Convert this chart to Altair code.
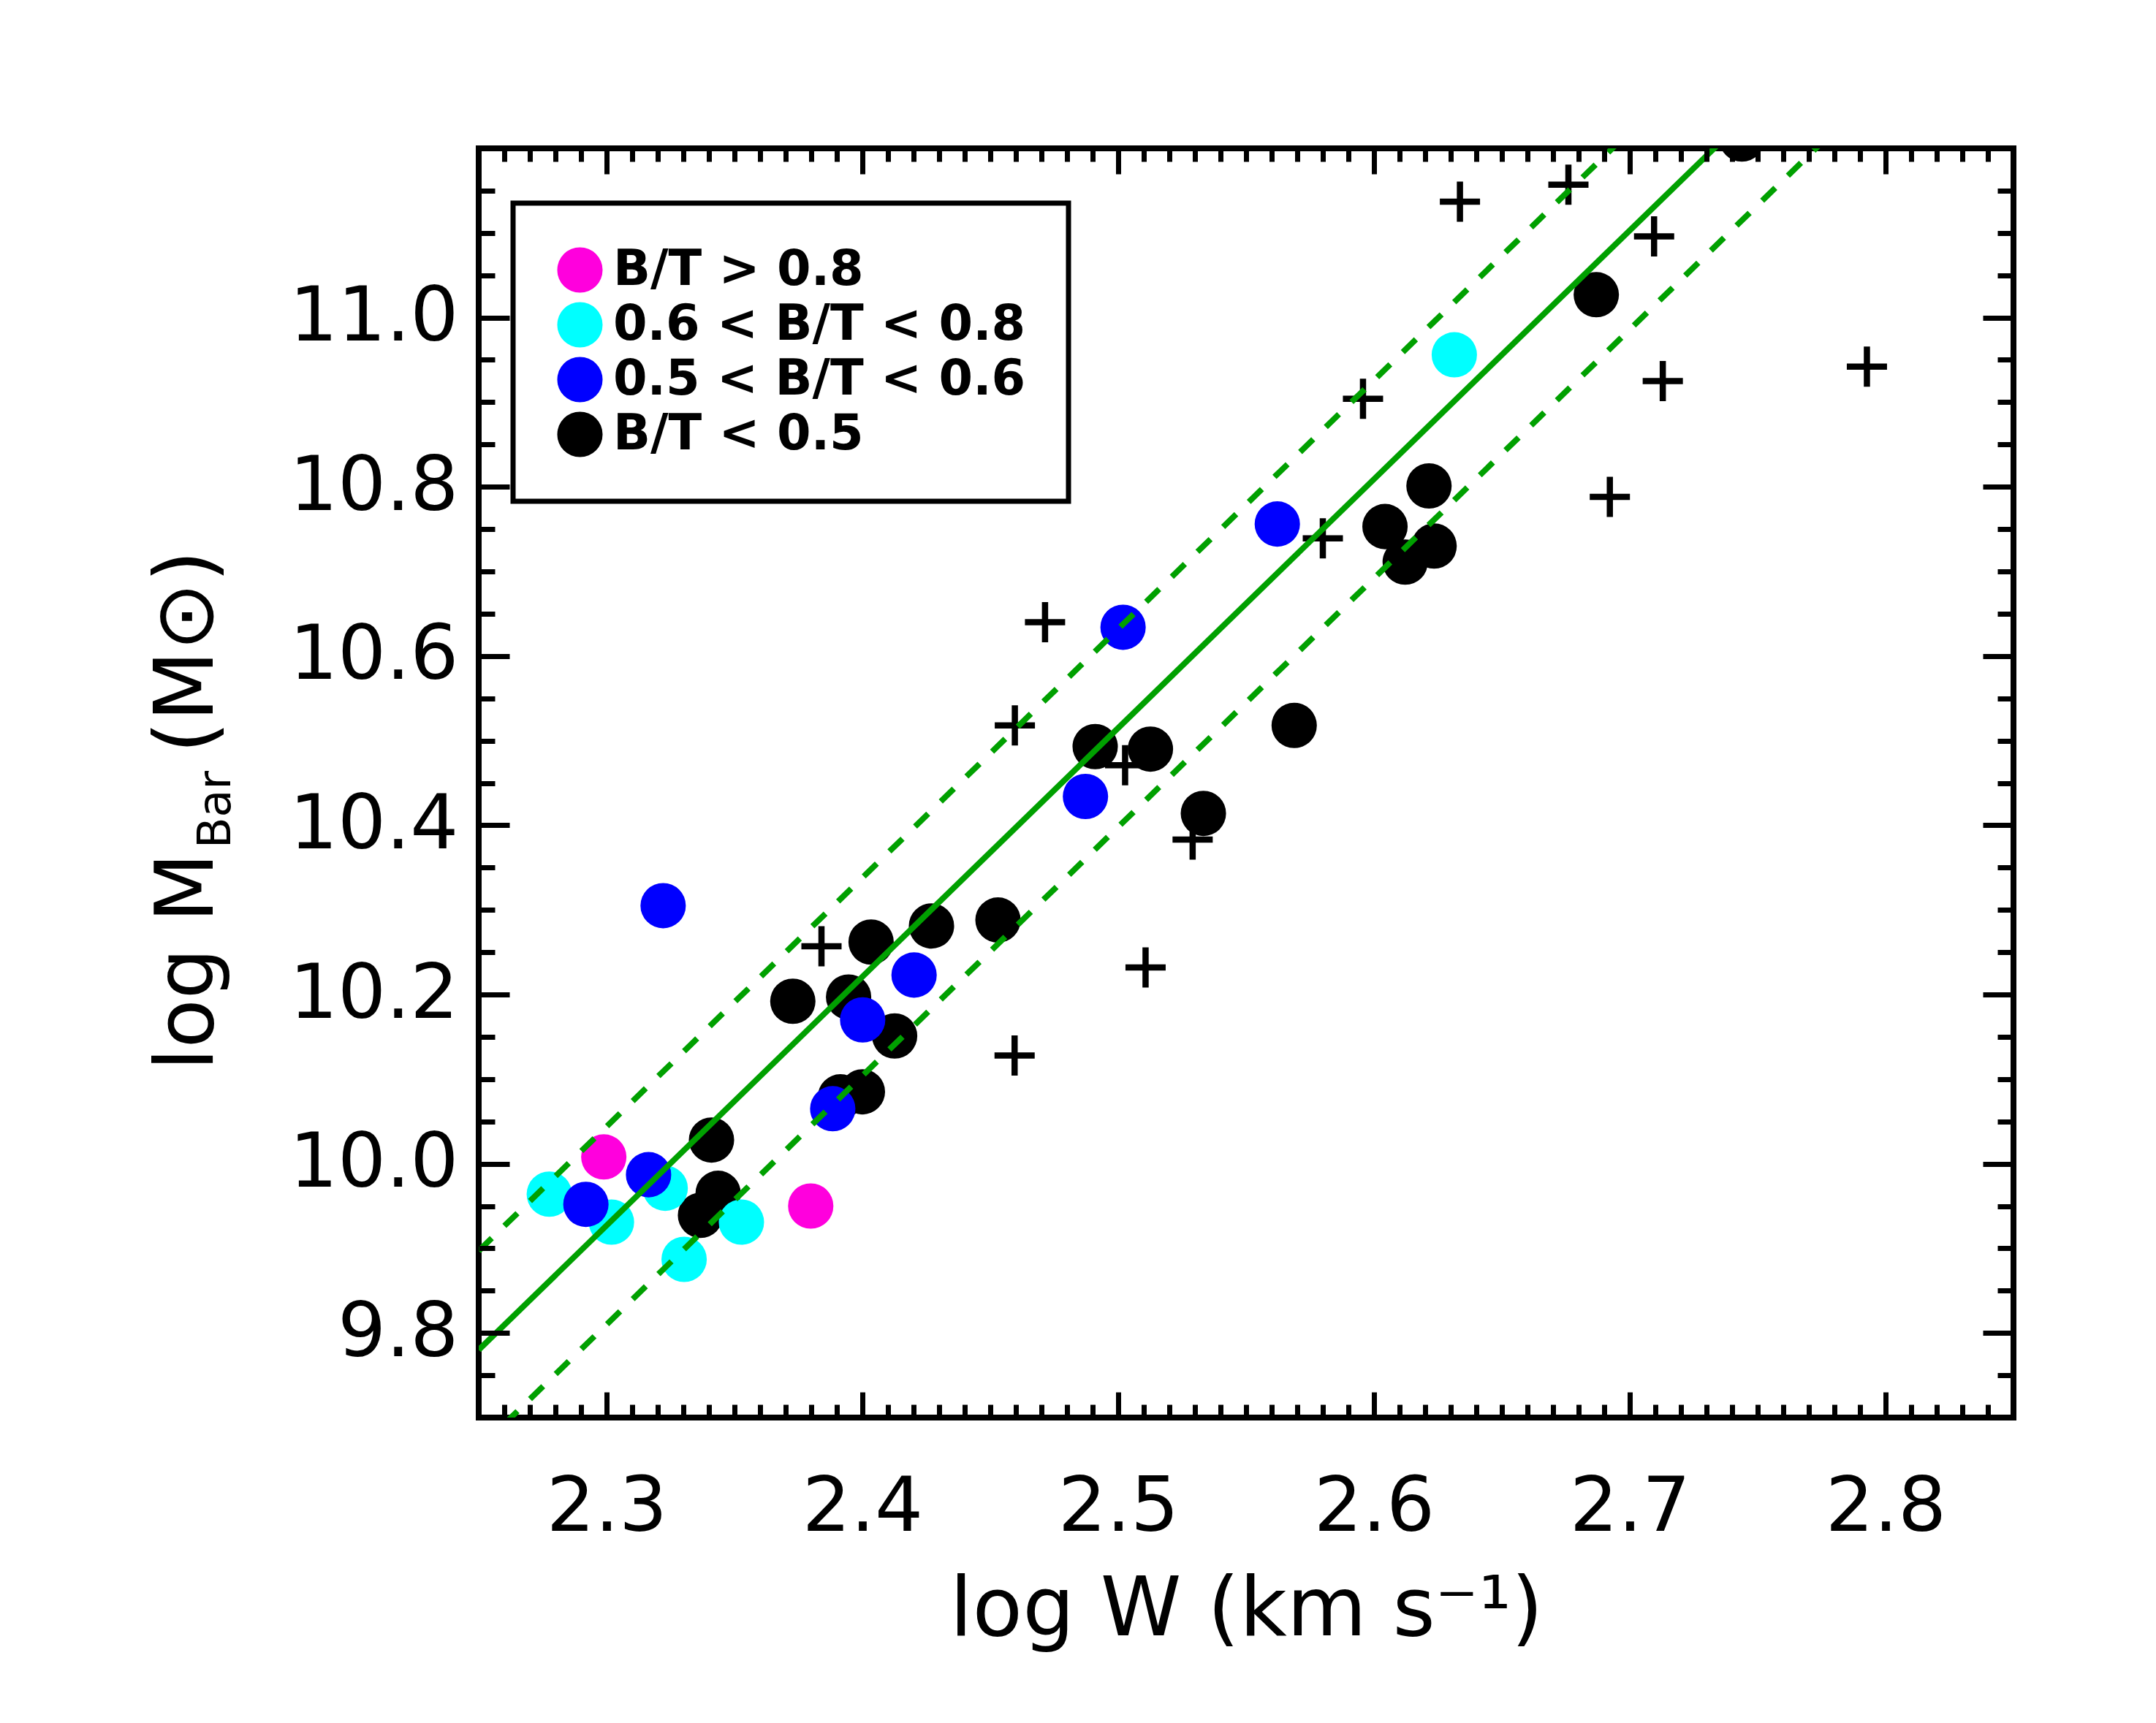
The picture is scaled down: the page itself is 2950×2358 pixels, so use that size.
import altair as alt
import pandas as pd

# ---------------- data ----------------
# B/T < 0.5 (black)
black_x = [2.3410, 2.3436, 2.3367, 2.3914, 2.4000, 2.3728, 2.3946, 2.4126, 2.4034,
           2.4270, 2.4530, 2.4910, 2.5126, 2.5333, 2.5688, 2.6043, 2.6215, 2.6235,
           2.6122, 2.6869, 2.7438]
black_y = [10.028, 9.965, 9.939, 10.079, 10.085, 10.192, 10.197, 10.151, 10.262,
           10.281, 10.288, 10.493, 10.490, 10.414, 10.518, 10.753, 10.801, 10.730,
           10.711, 11.027, 11.211]
# 0.6 < B/T < 0.8 (cyan)
cyan_x = [2.2776, 2.3019, 2.3229, 2.3303, 2.3527, 2.6314]
cyan_y = [9.964, 9.931, 9.971, 9.887, 9.931, 10.956]
# 0.5 < B/T < 0.6 (blue)
blue_x = [2.2919, 2.3164, 2.3221, 2.3884, 2.4001, 2.4202, 2.4872, 2.5019, 2.5622]
blue_y = [9.952, 9.987, 10.305, 10.065, 10.170, 10.223, 10.434, 10.634, 10.756]
# B/T > 0.8 (magenta)
mag_x = [2.2989, 2.3798]
mag_y = [10.008, 9.950]
# plus symbols
plus_x = [2.3840, 2.4595, 2.4714, 2.4596, 2.5027, 2.5291, 2.5107, 2.5800, 2.5957,
          2.6336, 2.6760, 2.7095, 2.7129, 2.6922, 2.7927]
plus_y = [10.257, 10.128, 10.640, 10.518, 10.471, 10.383, 10.232, 10.739, 10.904,
          11.137, 11.157, 11.096, 10.925, 10.788, 10.942]

# fit line and its +/- scatter
line_x = [2.25, 2.85]
fit_y = [9.780, 11.544]
upper_y = [9.897, 11.661]
lower_y = [9.663, 11.427]

cat_labels = ["B/T > 0.8", "0.6 < B/T < 0.8", "0.5 < B/T < 0.6", "B/T < 0.5"]
cat_colors = ["#ff00dd", "#00ffff", "#0000ff", "#000000"]

x_major = [2.3, 2.4, 2.5, 2.6, 2.7, 2.8]
x_minor = [round(2.26 + 0.01 * i, 2) for i in range(59)]
y_major = [9.8, 10.0, 10.2, 10.4, 10.6, 10.8, 11.0]
y_minor = [round(9.75 + 0.05 * i, 2) for i in range(29)]

x_title = "log W (km s\u207b\u00b9)"
y_title_main = ["log M"]
y_title_sub = ["Bar"]
y_title_unit = ["(M\u2299)"]

# ---------------- tables ----------------
rows = []
for lab, xs, ys in [(cat_labels[3], black_x, black_y), (cat_labels[1], cyan_x, cyan_y),
                    (cat_labels[2], blue_x, blue_y), (cat_labels[0], mag_x, mag_y)]:
    for a, b in zip(xs, ys):
        rows.append({"x": a, "y": b, "cat": lab})
circ_df = pd.DataFrame(rows)
plus_df = pd.DataFrame({"x": plus_x, "y": plus_y})
fit_df = pd.DataFrame({"x": line_x, "y": fit_y})
up_df = pd.DataFrame({"x": line_x, "y": upper_y})
lo_df = pd.DataFrame({"x": line_x, "y": lower_y})

FONT = "DejaVu Sans"
XS = alt.Scale(domain=[2.25, 2.85], nice=False, zero=False)
YS = alt.Scale(domain=[9.7, 11.2], nice=False, zero=False)


def mk_axis(orient, size, values, labels=False, title=None, fmt=".1f", pad=0):
    kw = dict(orient=orient, values=values, tickSize=size, offset=-size, tickWidth=7,
              tickColor="black", domain=False, grid=False, labels=labels, zindex=1,
              title=title)
    if labels:
        kw.update(format=fmt, labelFont=FONT, labelFontSize=104, labelColor="black",
                  labelPadding=pad, labelFlush=False, labelOverlap=False,
                  labelLimit=2000)
    if title:
        kw.update(titleFont=FONT, titleFontSize=112, titleFontWeight="normal",
                  titleColor="black", titlePadding=44)
    return alt.Axis(**kw)


pluses = alt.Chart(plus_df).mark_point(
    shape="M-1,0L1,0M0,-1L0,1", filled=False, color="black", strokeWidth=8.5,
    size=3025, opacity=1, clip=True, strokeCap="butt"
).encode(
    x=alt.X("x:Q", scale=XS, axis=mk_axis("bottom", 35, x_major, labels=True,
                                          title=x_title, pad=72)),
    y=alt.Y("y:Q", scale=YS, axis=mk_axis("left", 42, y_major, labels=True, pad=28)),
)

circles = alt.Chart(circ_df).mark_circle(size=3850, opacity=1, clip=True).encode(
    x=alt.X("x:Q", scale=XS, axis=mk_axis("bottom", 18, x_minor)),
    y=alt.Y("y:Q", scale=YS, axis=mk_axis("left", 22, y_minor)),
    color=alt.Color(
        "cat:N",
        scale=alt.Scale(domain=cat_labels, range=cat_colors),
        legend=alt.Legend(
            title=None, orient="none", legendX=47, legendY=75, symbolType="circle",
            symbolSize=3850, symbolStrokeWidth=0, symbolOpacity=1,
            labelFont=FONT, labelFontWeight="bold", labelFontSize=67,
            labelColor="black", labelOffset=12, labelLimit=2000, rowPadding=7,
            padding=58, strokeColor="black",
        ),
    ),
)

GREEN = "#00a000"
fit = alt.Chart(fit_df).mark_line(color=GREEN, strokeWidth=8, clip=True).encode(
    x=alt.X("x:Q", scale=XS, axis=mk_axis("top", 35, x_major)),
    y=alt.Y("y:Q", scale=YS, axis=mk_axis("right", 42, y_major)),
)
upper = alt.Chart(up_df).mark_line(color=GREEN, strokeWidth=8, strokeDash=[25, 24],
                                   strokeCap="butt", clip=True).encode(
    x=alt.X("x:Q", scale=XS, axis=mk_axis("top", 18, x_minor)),
    y=alt.Y("y:Q", scale=YS, axis=mk_axis("right", 22, y_minor)),
)
lower = alt.Chart(lo_df).mark_line(color=GREEN, strokeWidth=8, strokeDash=[25, 24],
                                   strokeCap="butt", clip=True).encode(
    x=alt.X("x:Q", scale=XS, axis=None),
    y=alt.Y("y:Q", scale=YS, axis=None),
)

t_main = alt.Chart(pd.DataFrame({"t": y_title_main})).mark_text(
    font=FONT, fontSize=110, angle=270, align="left", baseline="alphabetic", color="black"
).encode(text="t:N", x=alt.value(-364), y=alt.value(1262))
t_sub = alt.Chart(pd.DataFrame({"t": y_title_sub})).mark_text(
    font=FONT, fontSize=62, angle=270, align="left", baseline="alphabetic", color="black"
).encode(text="t:N", x=alt.value(-340), y=alt.value(958))
t_unit = alt.Chart(pd.DataFrame({"t": y_title_unit})).mark_text(
    font=FONT, fontSize=112, angle=270, align="left", baseline="alphabetic", color="black"
).encode(text="t:N", x=alt.value(-364), y=alt.value(828))

chart = alt.layer(pluses, circles, fit, upper, lower, t_main, t_sub, t_unit).resolve_axis(
    x="independent", y="independent"
).properties(
    width=2100, height=1737,
    autosize=alt.AutoSizeParams(type="none"),
    padding={"left": 647, "top": 195, "right": 150, "bottom": 380},
    background="white",
).configure_view(
    stroke="black", strokeWidth=8
).configure_legend(
    strokeWidth=7
)

chart.save("out.html", embed_options={"renderer": "svg", "actions": False})
